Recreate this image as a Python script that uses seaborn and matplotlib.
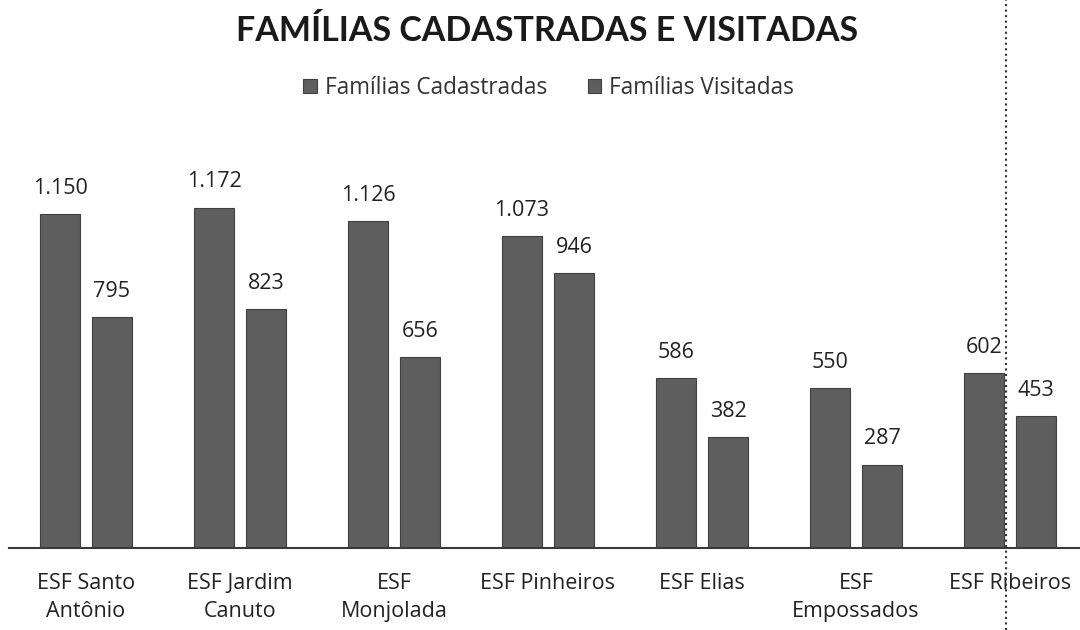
import numpy as np
import pandas as pd
import matplotlib.pyplot as plt
import seaborn as sns
from matplotlib.lines import Line2D

# dados
unidades = ["ESF Santo\nAntônio", "ESF Jardim\nCanuto", "ESF\nMonjolada", "ESF Pinheiros",
            "ESF Elias", "ESF\nEmpossados", "ESF Ribeiros"]
cadastradas = [1150, 1172, 1126, 1073, 586, 550, 602]
visitadas = [795, 823, 656, 946, 382, 287, 453]
series = ["Famílias Cadastradas", "Famílias Visitadas"]

df = pd.DataFrame({
    "unidade": unidades * 2,
    "valor": cadastradas + visitadas,
    "serie": [series[0]] * len(unidades) + [series[1]] * len(unidades),
})

sns.set_theme(style="white")
plt.rcParams['font.family'] = ['Open Sans', 'DejaVu Sans']

bar_color = "#5e5e5e"
fig = plt.figure(figsize=(10.8, 6.3), dpi=100)
ax = fig.add_axes([9 / 1080, 1 - 548 / 630, 1078 / 1080, 418 / 630])

sns.barplot(data=df, x="unidade", y="valor", hue="serie", palette=[bar_color, bar_color],
            width=0.675, gap=0.23, edgecolor="#404040", linewidth=0.8, ax=ax)

ax.set_ylim(0, 1439)
ax.set_xlim(-0.5, len(unidades) - 0.5)
for cont in ax.containers:
    labels = [f"{int(b.get_height()):,}".replace(",", ".") for b in cont]
    ax.bar_label(cont, labels=labels, padding=11, fontsize=15.5, color="#222222")

ax.set_xlabel("")
ax.set_ylabel("")
ax.set_yticks([])
ax.tick_params(axis="x", length=0, labelsize=15.5, labelcolor="#222222", pad=18)
for t in ax.get_xticklabels():
    t.set_linespacing(1.45)
    t.set_verticalalignment("top")
for s in ["left", "right", "top"]:
    ax.spines[s].set_visible(False)
ax.spines["bottom"].set_color("#3a3a3a")
ax.spines["bottom"].set_linewidth(1.5)

handles, lbls = ax.get_legend_handles_labels()
ax.legend(handles, lbls, loc="center", bbox_to_anchor=(0.508, 1 - 88 / 630),
          bbox_transform=fig.transFigure, ncol=2, frameon=False, fontsize=16.3,
          handlelength=0.6, handleheight=0.6, handletextpad=0.35, columnspacing=1.8,
          labelcolor="#333333")

fig.text(0.507, 1 - 31 / 630, "FAMÍLIAS CADASTRADAS E VISITADAS", ha="center", va="center",
         fontsize=24.5, fontweight="bold", color="#1a1a1a", family=["Lato", "DejaVu Sans"])

# linha pontilhada da digitalização
fig.add_artist(Line2D([1006 / 1080, 1006 / 1080], [0, 1], transform=fig.transFigure,
                      color="#333333", linestyle=":", linewidth=1.5))

fig.savefig("out.png", dpi=100)
